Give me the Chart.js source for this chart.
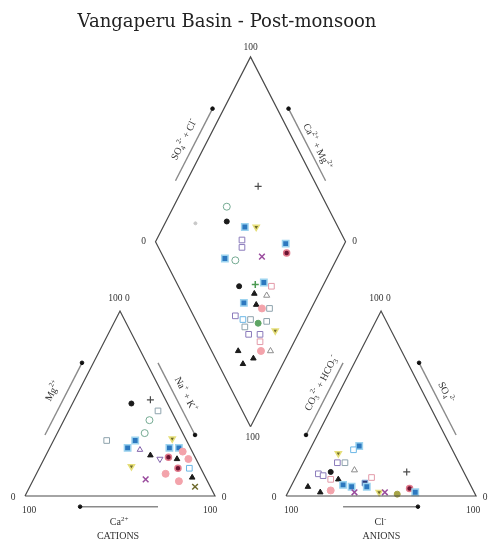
<!DOCTYPE html>
<html>
<head>
<meta charset="utf-8">
<title>Vangaperu Basin - Post-monsoon</title>
<script src="https://cdn.jsdelivr.net/npm/chart.js@4.4.1/dist/chart.umd.min.js"></script>
<style>
  html, body { margin: 0; padding: 0; background: #fff; }
  #wrap { width: 489px; height: 548px; position: relative; }
</style>
</head>
<body>
<div id="wrap"><canvas id="piper"></canvas></div>
<script>
// Post-monsoon samples, % of meq/l

// cation triangle (Na+ + K+ is what is left of 100)
const catCa = [19, 8, 7, 14, 20, 42, 27, 33, 27, 23, 19, 36, 7, 11, 6, 5, 14, 10, 4, 12, 20, 15, 6, 7, 32, 8];
const catMg = [50, 52, 46, 41, 34, 30, 30, 26, 25, 22, 20, 16, 31, 26, 26, 24, 21, 20, 20, 15, 12, 8, 15, 10, 9, 5];
const catSym = ['blackDot', 'grayPlus', 'openSq', 'tealCirc', 'tealCirc', 'openSq', 'blueSq', 'blueSq', 'purpleTri',
  'blackTri', 'purpleV', 'oliveInv', 'oliveInv', 'blueSq', 'blueSq', 'pinkDot', 'maroonDot', 'blackTri', 'pinkDot',
  'maroonDot', 'pinkDot', 'pinkDot', 'skySq', 'blackTri', 'purpleX', 'oliveX'];

// anion triangle (CO3 + HCO3 is the rest)
const anCl  = [25, 23, 16, 18, 22, 29, 11, 14, 17, 19, 9, 23, 27, 32, 17, 22, 38, 40, 35, 40, 48, 51, 58, 57, 63, 67];
const anSO4 = [27, 25, 23, 18, 18, 14, 12, 11, 13, 9, 5, 9, 6, 5, 2, 3, 7, 10, 2, 5, 2, 2, 1, 13, 4, 2];
const anSym = ['blueSq', 'skySq', 'oliveInv', 'purpleSq', 'openSq', 'grayTri', 'purpleSq', 'purpleSq', 'blackDot',
  'pinkSq', 'blackTri', 'blackTri', 'blueSq', 'blueSq', 'blackTri', 'pinkDot', 'navySq', 'pinkSq', 'purpleX',
  'blueSq', 'oliveInv', 'purpleX', 'oliveDot', 'grayPlus', 'maroonDot', 'blueSq'];

// diamond: SO4 + Cl and Ca + Mg
const dmSO4Cl = [69, 47, 43, 51, 57, 46, 44, 68, 66, 32, 37, 52, 32, 41, 46, 49, 38, 44, 30, 36, 38, 42, 22,
  25, 29, 37, 32, 24, 39, 24, 30, 28, 14, 26, 31, 13, 20, 26];
const dmCaMg = [61, 72, 68, 57, 51, 55, 53, 31, 28, 59, 53, 40, 44, 36, 32, 27, 34, 27, 37, 30, 26, 22, 38,
  33, 29, 20, 24, 30, 13, 26, 20, 18, 27, 15, 10, 21, 17, 84];
const dmSym = ['grayPlus', 'tealCirc', 'blackDot', 'blueSq', 'oliveInv', 'purpleSq', 'purpleSq', 'blueSq',
  'maroonDot', 'blueSq', 'tealCirc', 'purpleX', 'blackDot', 'greenPlus', 'blueSq', 'pinkSq', 'blackTri',
  'grayTri', 'blueSq', 'blackTri', 'pinkDot', 'openSq', 'purpleSq', 'skySq', 'openSq', 'openSq', 'greenDot',
  'openSq', 'oliveInv', 'purpleSq', 'purpleSq', 'pinkSq', 'blackTri', 'pinkDot', 'grayTri', 'blackTri',
  'blackTri', 'faintDot'];

const chartTitle = 'Vangaperu Basin - Post-monsoon';

// geometry of the plot, in "percent" units
const GAP = 37.4;
const R3 = 0.866;
const H = 100 * R3;

const cBL = [0, 0], cBR = [100, 0], cTop = [50, H];
const aBL = [100 + GAP, 0], aBR = [200 + GAP, 0], aTop = [150 + GAP, H];
const dB = [100 + GAP / 2, GAP * R3];
const dL = [dB[0] - 50, dB[1] + H];
const dR = [dB[0] + 50, dB[1] + H];
const dT = [dB[0], dB[1] + 2 * H];

function catPt(ca, mg) {
  const nak = 100 - ca - mg;
  return { x: nak + mg / 2, y: mg * R3 };
}
function anPt(cl, so4) {
  return { x: aBL[0] + cl + so4 / 2, y: so4 * R3 };
}
function dmPt(a, c) {
  return { x: dB[0] + (a - c) / 2, y: dB[1] + (a + c) * R3 };
}

// [pointStyle, radius, fill, stroke, strokeWidth, rotation]
const SYM = {
  blueSq:    ['rect', 4.5, '#2c78bf', '#9cd3ef', 1.5, 0],
  openSq:    ['rect', 4, '#ffffff', '#8ea3ad', 1, 0],
  purpleSq:  ['rect', 4, '#ffffff', '#8b7bbb', 1, 0],
  pinkSq:    ['rect', 4, '#ffffff', '#e39aa9', 1, 0],
  skySq:     ['rect', 4, '#ffffff', '#6cb7e6', 1, 0],
  navySq:    ['rect', 4, '#2c3a7a', '#7fa7d8', 1, 0],
  tealCirc:  ['circle', 3.5, '#ffffff', '#74aa92', 1, 0],
  blackDot:  ['circle', 2.5, '#1b1b1b', '#1b1b1b', 1, 0],
  blackTri:  ['triangle', 3.2, '#1b1b1b', '#1b1b1b', 1, 0],
  grayTri:   ['triangle', 3.5, '#ffffff', '#8c8c8c', 1, 0],
  purpleTri: ['triangle', 3.2, '#ffffff', '#8262aa', 1, 0],
  purpleV:   ['triangle', 3.5, '#ffffff', '#8262aa', 1, 180],
  oliveInv:  ['triangle', 3.5, '#6f6a2a', '#e6df7a', 1.5, 180],
  pinkDot:   ['circle', 3.5, '#f3a3ab', '#f3a3ab', 1, 0],
  maroonDot: ['circle', 3, '#6b1230', '#e27a8c', 1.5, 0],
  purpleX:   ['crossRot', 4, '#ffffff', '#9a4c9e', 1.5, 0],
  oliveX:    ['crossRot', 4, '#ffffff', '#6e6a2c', 1.5, 0],
  grayPlus:  ['cross', 3.5, '#ffffff', '#4b4b4b', 1.2, 0],
  greenPlus: ['cross', 3.5, '#ffffff', '#4c9a52', 1.5, 0],
  greenDot:  ['circle', 3, '#5ea564', '#5ea564', 1, 0],
  oliveDot:  ['circle', 3, '#a6a446', '#a6a446', 1, 0],
  faintDot:  ['circle', 1.5, '#c8c8c8', '#c8c8c8', 1, 0]
};

function pointSet(pts, syms) {
  return {
    data: pts,
    showLine: false,
    clip: false,
    pointStyle: syms.map(s => SYM[s][0]),
    pointRadius: syms.map(s => SYM[s][1]),
    pointBackgroundColor: syms.map(s => SYM[s][2]),
    pointBorderColor: syms.map(s => SYM[s][3]),
    pointBorderWidth: syms.map(s => SYM[s][4]),
    pointRotation: syms.map(s => SYM[s][5])
  };
}

function outline(verts) {
  const pts = verts.concat([verts[0]]).map(v => ({ x: v[0], y: v[1] }));
  return { data: pts, showLine: true, borderColor: '#4a4a4a', borderWidth: 1.2, pointRadius: 0, clip: false };
}

// arrow parallel to an edge, shifted sideways by dx; dotAtEnd puts the head at p1 side
function edgeArrow(p0, p1, dx, dotAtEnd) {
  const t0 = 0.33, t1 = 0.72;
  const a = { x: p0[0] + (p1[0] - p0[0]) * t0 + dx, y: p0[1] + (p1[1] - p0[1]) * t0 };
  const b = { x: p0[0] + (p1[0] - p0[0]) * t1 + dx, y: p0[1] + (p1[1] - p0[1]) * t1 };
  return arrow(a, b, dotAtEnd);
}
function arrow(a, b, dotAtEnd) {
  return {
    data: [a, b], showLine: true, borderColor: '#8a8a8a', borderWidth: 1.4, clip: false,
    pointRadius: dotAtEnd ? [0, 1.8] : [1.8, 0],
    pointBackgroundColor: '#111', pointBorderColor: '#111', pointBorderWidth: 1
  };
}

const datasets = [
  outline([cBL, cBR, cTop]),
  outline([aBL, aBR, aTop]),
  outline([dB, dR, dT, dL]),
  edgeArrow(cBL, cTop, -6, true),
  edgeArrow(cBR, cTop, 6, false),
  arrow({ x: 29, y: -5 }, { x: 70, y: -5 }, false),
  edgeArrow(aBL, aTop, -6, false),
  edgeArrow(aBR, aTop, 6, true),
  arrow({ x: aBL[0] + 30, y: -5 }, { x: aBL[0] + 69.4, y: -5 }, true),
  edgeArrow(dL, dT, -6, true),
  edgeArrow(dR, dT, 6, true),
  pointSet(catCa.map((v, i) => catPt(v, catMg[i])), catSym),
  pointSet(anCl.map((v, i) => anPt(v, anSO4[i])), anSym),
  pointSet(dmSO4Cl.map((v, i) => dmPt(v, dmCaMg[i])), dmSym)
];

const SERIF = '"Liberation Serif", "DejaVu Serif", serif';

// text made of normal / sup / sub pieces, centred on x,y
function rich(ctx, x, y, angle, parts, size) {
  const fontOf = p => (p[1] === 'n' ? size : size * 0.7) + 'px ' + SERIF;
  ctx.save();
  ctx.translate(x, y);
  ctx.rotate(angle);
  ctx.textBaseline = 'middle';
  ctx.textAlign = 'left';
  ctx.fillStyle = '#333';
  let w = 0;
  parts.forEach(p => { ctx.font = fontOf(p); w += ctx.measureText(p[0]).width; });
  let cx = -w / 2;
  parts.forEach(p => {
    ctx.font = fontOf(p);
    const dy = p[1] === 'sup' ? -size * 0.4 : p[1] === 'sub' ? size * 0.3 : 0;
    ctx.fillText(p[0], cx, dy);
    cx += ctx.measureText(p[0]).width;
  });
  ctx.restore();
}

const piperText = {
  id: 'piperText',
  afterDatasetsDraw(chart) {
    const ctx = chart.ctx;
    const sx = chart.scales.x, sy = chart.scales.y;
    const px = p => [sx.getPixelForValue(p[0]), sy.getPixelForValue(p[1])];
    const txt = (s, p, dx, dy, size) => rich(ctx, p[0] + dx, p[1] + dy, 0, [[s, 'n']], size || 9.5);

    // label along an edge p0 -> p1 (reading direction), pushed out by perp px
    const edgeLabel = (p0, p1, t, perp, parts) => {
      const a = px(p0), b = px(p1);
      const len = Math.hypot(b[0] - a[0], b[1] - a[1]);
      const d = [(b[0] - a[0]) / len, (b[1] - a[1]) / len];
      const n = [d[1], -d[0]];
      const x = a[0] + (b[0] - a[0]) * t + n[0] * perp;
      const y = a[1] + (b[1] - a[1]) * t + n[1] * perp;
      rich(ctx, x, y, Math.atan2(d[1], d[0]), parts, 10);
    };

    // title
    ctx.save();
    ctx.font = '18px "DejaVu Serif", serif';
    ctx.fillStyle = '#222';
    ctx.textAlign = 'center';
    ctx.textBaseline = 'alphabetic';
    ctx.fillText(chartTitle, 227, 27);
    ctx.restore();

    // cation triangle
    txt('100 0', px(cTop), -1, -13);
    txt('0', px(cBL), -12, 1);
    txt('100', px(cBL), 4, 14);
    txt('100', px(cBR), -5, 14);
    txt('0', px(cBR), 9, 1);
    edgeLabel(cBL, cTop, 0.51, 23, [['Mg', 'n'], ['2+', 'sup']]);
    edgeLabel(cTop, cBR, 0.5, 20, [['Na', 'n'], ['+', 'sup'], [' + K', 'n'], ['+', 'sup']]);
    const cMid = px([49.5, -5]);
    rich(ctx, cMid[0], cMid[1] + 16, 0, [['Ca', 'n'], ['2+', 'sup']], 10);
    rich(ctx, cMid[0] - 1, cMid[1] + 30, 0, [['CATIONS', 'n']], 10);

    // anion triangle
    txt('100 0', px(aTop), -1, -13);
    txt('0', px(aBL), -12, 1);
    txt('100', px(aBL), 5, 14);
    txt('100', px(aBR), -3, 14);
    txt('0', px(aBR), 9, 1);
    edgeLabel(aBL, aTop, 0.56, 20, [['CO', 'n'], ['3', 'sub'], ['2-', 'sup'], [' + HCO', 'n'], ['3', 'sub'], ['-', 'sup']]);
    edgeLabel(aTop, aBR, 0.49, 20, [['SO', 'n'], ['4', 'sub'], ['2-', 'sup']]);
    const aMid = px([aBL[0] + 49.7, -5]);
    rich(ctx, aMid[0], aMid[1] + 16, 0, [['Cl', 'n'], ['-', 'sup']], 10);
    rich(ctx, aMid[0] + 1, aMid[1] + 30, 0, [['ANIONS', 'n']], 10);

    // diamond
    txt('100', px(dT), 0, -9);
    txt('0', px(dL), -12, 0);
    txt('0', px(dR), 9, 0);
    txt('100', px(dB), 2, 11);
    edgeLabel(dL, dT, 0.5, 21, [['SO', 'n'], ['4', 'sub'], ['2-', 'sup'], [' + Cl', 'n'], ['-', 'sup']]);
    edgeLabel(dT, dR, 0.53, 18, [['Ca', 'n'], ['2+', 'sup'], [' + Mg', 'n'], ['2+', 'sup']]);
  }
};

// scale limits so that one unit is 1.9 px across and 2.136 px up
const xMin = -25 / 1.9, xMax = xMin + 489 / 1.9;
const yMax = 496 / 2.136, yMin = yMax - 548 / 2.136;

new Chart(document.getElementById('piper'), {
  type: 'scatter',
  data: { datasets: datasets },
  options: {
    responsive: true,
    maintainAspectRatio: false,
    animation: false,
    layout: { padding: 0, autoPadding: false },
    plugins: { legend: { display: false }, tooltip: { enabled: false }, title: { display: false } },
    elements: { line: { tension: 0, fill: false } },
    scales: {
      x: { type: 'linear', min: xMin, max: xMax, display: false },
      y: { type: 'linear', min: yMin, max: yMax, display: false }
    }
  },
  plugins: [piperText]
});
</script>
</body>
</html>
